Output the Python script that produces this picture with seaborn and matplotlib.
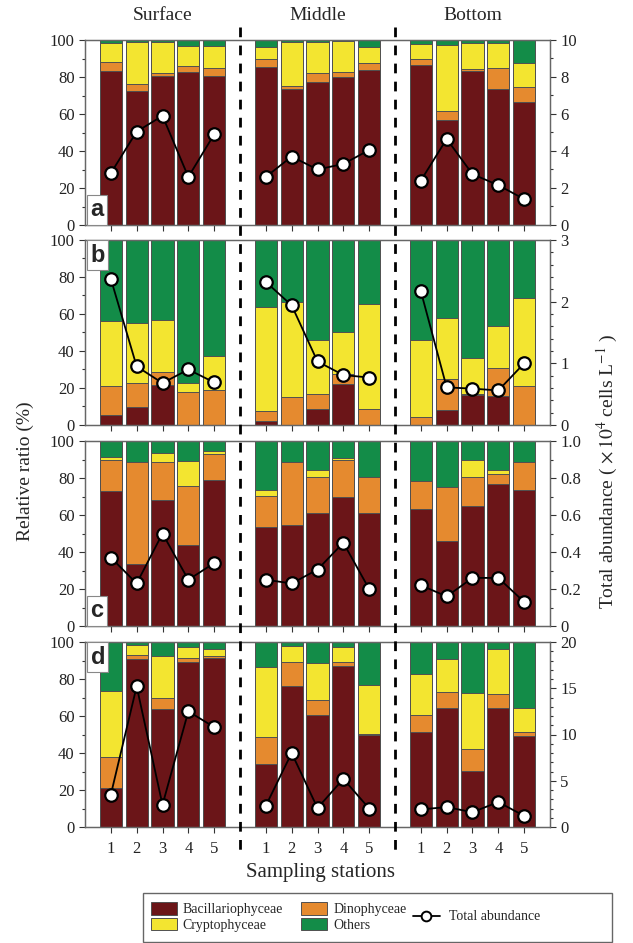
import numpy as np
import pandas as pd
import matplotlib
matplotlib.use("Agg")
import matplotlib.pyplot as plt
import matplotlib.transforms as mtransforms
from matplotlib.lines import Line2D
from matplotlib.patches import Patch, Rectangle
from matplotlib.ticker import MultipleLocator, FuncFormatter
import seaborn as sns

sns.set_theme(style="ticks")
plt.rcParams['font.family'] = ['Liberation Serif', 'DejaVu Serif']
plt.rcParams['mathtext.fontset'] = 'stix'

# ---- data ----
depths = ["Surface", "Middle", "Bottom"]
stations = ["1", "2", "3", "4", "5"]
panel_labels = ["a", "b", "c", "d"]

# layer percentages per bar: Surface 1-5, Middle 1-5, Bottom 1-5
bac_a = [83, 72.5, 80.5, 82.5, 80.5, 85.5, 73.5, 77.5, 80, 84, 86.5, 57, 83, 73.5, 66.5]
dino_a = [5, 3.5, 1.5, 3.5, 4.5, 4, 1.5, 4.5, 2.5, 3.5, 3, 4.5, 1.5, 11.5, 8]
crypto_a = [10.2, 23, 16.7, 11, 12, 6.9, 23.7, 16.7, 17, 8.5, 8.2, 35.8, 13.7, 13.2, 13]
others_a = [1.8, 1, 1.3, 3, 3, 3.6, 1.3, 1.3, 0.5, 4, 2.3, 2.7, 1.8, 1.8, 12.5]
total_a = [2.8, 5.05, 5.9, 2.6, 4.9, 2.6, 3.7, 3.0, 3.3, 4.05, 2.4, 4.65, 2.75, 2.15, 1.4]

bac_b = [5.5, 9.5, 21.5, 0, 0, 2, 0, 8.5, 22, 0, 0, 8, 16, 15.5, 0]
dino_b = [15.5, 13, 7, 18, 19, 5.5, 15, 8, 5.5, 8.5, 4.5, 17, 1, 15.5, 21]
crypto_b = [35, 32.5, 28.5, 4.5, 18.5, 56.5, 51.5, 29.5, 22.5, 57, 41.5, 33, 19, 22.5, 47.5]
others_b = [44, 45, 43, 77.5, 62.5, 36, 33.5, 54, 50, 34.5, 54, 42, 64, 46.5, 31.5]
total_b = [2.37, 0.95, 0.68, 0.9, 0.69, 2.32, 1.94, 1.03, 0.81, 0.77, 2.17, 0.61, 0.59, 0.56, 1.0]

bac_c = [73, 33.5, 68, 44, 79, 53.5, 54.5, 61, 70, 61, 63, 46, 65, 76.5, 73.5]
dino_c = [16.5, 55, 20.5, 31.5, 14, 17, 34, 19.5, 19.5, 19.5, 15.5, 29, 15.5, 5.5, 15]
crypto_c = [2, 0, 5, 13.5, 1.5, 3, 0, 4, 1.5, 0, 0, 0, 9.5, 2.5, 0]
others_c = [8.5, 11.5, 6.5, 11, 5.5, 26.5, 11.5, 15.5, 9, 19.5, 21.5, 25, 10, 15.5, 11.5]
total_c = [0.37, 0.23, 0.5, 0.25, 0.34, 0.25, 0.23, 0.305, 0.45, 0.2, 0.22, 0.16, 0.26, 0.26, 0.13]

bac_d = [21, 91, 64, 89, 91.5, 34, 76, 60.5, 87, 49.5, 51.5, 64.5, 30.5, 64.5, 49]
dino_d = [17, 2, 5.5, 2.5, 1, 14.5, 13, 8, 2, 1, 9, 8.5, 11.5, 7.5, 2.5]
crypto_d = [35.5, 5.5, 23, 6, 3.5, 38, 9, 20, 8.5, 26, 22, 18, 30.5, 24, 13]
others_d = [26.5, 1.5, 7.5, 2.5, 4, 13.5, 2, 11.5, 2.5, 23.5, 17.5, 9, 27.5, 4, 35.5]
total_d = [3.5, 15.2, 2.4, 12.5, 10.8, 2.3, 8.0, 2.05, 5.2, 2.0, 1.9, 2.15, 1.6, 2.7, 1.2]

right_max = [10, 3, 1.0, 20]
right_major = [2, 1, 0.2, 5]
right_minor = [1, 0.2, 0.1, 1]

panels = [
    (bac_a, dino_a, crypto_a, others_a, total_a),
    (bac_b, dino_b, crypto_b, others_b, total_b),
    (bac_c, dino_c, crypto_c, others_c, total_c),
    (bac_d, dino_d, crypto_d, others_d, total_d),
]

names = ["Bacillariophyceae", "Dinophyceae", "Cryptophyceae", "Others"]
colors = ["#6b1518", "#e58a2f", "#f3e530", "#138c48"]
edge = "#505050"

# x positions: 5 stations per depth with a gap between depths
pos = [0, 1, 2, 3, 4, 6, 7, 8, 9, 10, 12, 13, 14, 15, 16]
depth_of = [d for d in depths for _ in stations]

W, H = 633, 943
fig = plt.figure(figsize=(W / 100, H / 100), dpi=100)
left, right = 85 / W, 550 / W
tops = [40, 240, 441, 642]
ph = 185

axes = []
for i, (bac, dino, crypto, others, total) in enumerate(panels):
    ax = fig.add_axes([left, 1 - (tops[i] + ph) / H, right - left, ph / H])
    axes.append(ax)
    df = pd.DataFrame({"pos": pos, "depth": depth_of,
                       "bac": bac, "dino": dino, "crypto": crypto, "others": others,
                       "total": total})
    layers = [df["bac"], df["dino"], df["crypto"], df["others"]]
    cum = np.cumsum(np.vstack(layers), axis=0)
    # draw from the top of the stack downwards so lower layers sit in front
    for k in range(3, -1, -1):
        sns.barplot(x=df["pos"], y=cum[k], native_scale=True, color=colors[k],
                    width=0.86, edgecolor=edge, linewidth=0.7, saturation=1,
                    errorbar=None, ax=ax)
    ax.set_xlim(-1, 17)
    ax.set_ylim(0, 100)
    ax.set_yticks(range(0, 101, 20))
    ax.yaxis.set_minor_locator(MultipleLocator(10))
    ax.set_xticks(pos)
    ax.set_xticklabels(stations * 3 if i == 3 else [])
    ax.set_xlabel("")
    ax.set_ylabel("")
    ax.tick_params(axis="both", direction="out", labelsize=12, length=4, width=0.8, colors="#333333")
    ax.tick_params(axis="y", which="minor", length=2.5, width=0.8, colors="#333333")
    ax.tick_params(axis="x", pad=6)
    for t in ax.get_xticklabels() + ax.get_yticklabels():
        t.set_color("#222222")
    for s in ax.spines.values():
        s.set_color("#666666")
        s.set_linewidth(0.9)

    ax2 = ax.twinx()
    sns.lineplot(data=df, x="pos", y="total", units="depth", estimator=None,
                 color="black", lw=1.3, marker="o", markersize=9,
                 markerfacecolor="white", markeredgecolor="black", markeredgewidth=1.6,
                 legend=False, ax=ax2)
    ax2.set_ylim(0, right_max[i])
    ax2.yaxis.set_major_locator(MultipleLocator(right_major[i]))
    ax2.yaxis.set_minor_locator(MultipleLocator(right_minor[i]))
    if i == 2:
        ax2.yaxis.set_major_formatter(FuncFormatter(lambda v, p: "0" if v == 0 else f"{v:.1f}"))
    ax2.set_ylabel("")
    ax2.set_xlabel("")
    ax2.set_xlim(-1, 17)
    ax2.tick_params(axis="y", direction="out", labelsize=12, length=4, width=0.8, colors="#333333")
    ax2.tick_params(axis="y", which="minor", length=2.5, width=0.8, colors="#333333")
    for t in ax2.get_yticklabels():
        t.set_color("#222222")
    for s in ax2.spines.values():
        s.set_color("#666666")
        s.set_linewidth(0.9)

    # panel letter
    if i in (0, 2):
        ax2.text(0.012, 0.02, panel_labels[i], transform=ax.transAxes, ha="left", va="bottom",
                 fontsize=17, fontweight="bold", family=["Liberation Sans", "DejaVu Sans"],
                 bbox=dict(boxstyle="square,pad=0.14", fc="white", ec="#888888", lw=0.8), zorder=10)
    else:
        ax2.text(0.012, 0.98, panel_labels[i], transform=ax.transAxes, ha="left", va="top",
                 fontsize=17, fontweight="bold", family=["Liberation Sans", "DejaVu Sans"],
                 bbox=dict(boxstyle="square,pad=0.14", fc="white", ec="#888888", lw=0.8), zorder=10)

# depth titles
for j, d in enumerate(depths):
    axes[0].text(pos[j * 5 + 2], 1 - 15 / H, d, transform=mtransforms.blended_transform_factory(
        axes[0].transData, fig.transFigure), ha="center", va="center", fontsize=14)

# dashed separators running through all panels
trans = mtransforms.blended_transform_factory(axes[0].transData, fig.transFigure)
for xsep in (5, 11):
    fig.add_artist(Line2D([xsep, xsep], [1 - 27 / H, 1 - 857 / H], transform=trans,
                          color="black", lw=2, linestyle=(0, (3.5, 3))))

fig.text(25 / W, 0.5, "Relative ratio (%)", rotation=90, ha="center", va="center", fontsize=14)
fig.text(607 / W, 0.5, r"Total abundance ( $\times\,10^{4}$ cells L$^{-1}$ )", rotation=90,
         ha="center", va="center", fontsize=14)
fig.text(320 / W, 1 - 873 / H, "Sampling stations", ha="center", va="center", fontsize=15)

# legend
fig.add_artist(Rectangle((143 / W, 1 - 942 / H), 469 / W, 49 / H, transform=fig.transFigure,
                         fill=False, ec="#666666", lw=1))
handles = [Patch(fc=colors[0], ec=edge, lw=0.7), Patch(fc=colors[2], ec=edge, lw=0.7),
           Patch(fc=colors[1], ec=edge, lw=0.7), Patch(fc=colors[3], ec=edge, lw=0.7)]
labels = [names[0], names[2], names[1], names[3]]
fig.legend(handles, labels, ncol=2, loc="center left", bbox_to_anchor=(141 / W, 1 - 917 / H),
           frameon=False, fontsize=10, handlelength=1.9, handleheight=1.0, columnspacing=1.3,
           labelspacing=0.1, handletextpad=0.4, borderpad=0.2)
line_h = Line2D([], [], color="black", lw=1.3, marker="o", markersize=7,
                markerfacecolor="white", markeredgecolor="black", markeredgewidth=1.4)
fig.legend([line_h], ["Total abundance"], loc="center left", bbox_to_anchor=(400 / W, 1 - 917 / H),
           frameon=False, fontsize=10, handlelength=2.0, handletextpad=0.6)

fig.savefig("out.png", dpi=100, facecolor="white")
